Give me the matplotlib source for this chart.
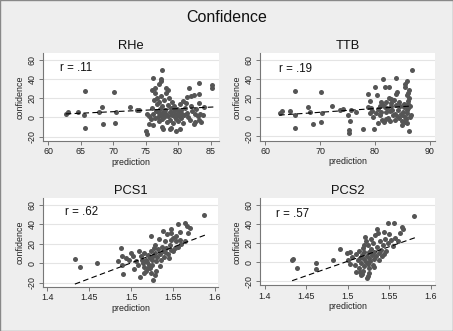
import matplotlib
matplotlib.use("Agg")
import matplotlib.pyplot as plt
from matplotlib.patches import Rectangle

plt.rcParams['font.family'] = ['Liberation Sans', 'DejaVu Sans']

# ---------- data ----------
rhe_x = [62.8, 63.0, 64.6, 65.5, 65.6, 65.7, 67.8, 68.3, 68.4, 70.2, 70.3, 70.5, 72.6, 73.6, 74.0,
         75.0, 75.2, 75.2, 77.6, 76.1, 77.3, 77.4, 76.4, 78.1, 81.7, 83.3, 85.2, 85.3, 83.3, 81.3,
         82.0, 82.5, 77.7, 78.7, 79.7, 75.6, 82.6, 83.3,
         75.5, 75.8, 76.0, 76.2, 76.3, 76.5, 76.5, 76.6, 76.7, 76.8, 76.9, 77.0, 77.0, 77.1, 77.2,
         77.3, 77.4, 77.5, 77.6, 77.7, 77.8, 77.9, 78.0, 78.1, 78.2, 78.3, 78.4, 78.5, 78.6, 78.7,
         78.8, 78.9, 79.0, 79.1, 79.2, 79.3, 79.4, 79.5, 79.6, 79.7, 79.8, 79.9, 80.0, 80.1, 80.2,
         80.3, 80.4, 80.5, 80.6, 80.7, 80.8, 80.9, 81.0, 81.2, 81.4, 81.6, 81.8, 82.0, 82.2, 82.4,
         82.6, 82.8, 83.0, 83.2, 83.4, 83.6, 83.8, 84.0, 76.2, 77.5, 78.9, 80.3, 76.0, 77.0, 78.5]
rhe_y = [3, 5.5, 6, 2, 27, -11, 6, 10.5, -7, 26.6, -5.5, 5.5, 11, 8, 8,
         -14, -17, 4, 49, 41, 40, 38, 31, 31, 31, 36, 33.5, 31, 24, 21,
         22.5, 23, -12, -12, -14, -6.5, -5, -3,
         1, -2, 10, 3, 18, 25, -1, 7, 14, 20, 0, 5, 16, -4, 9,
         22, 2, 12, -2, 6, 18, 0, 8, 25, 3, -5, 13, 1, 20, 6,
         -3, 10, 16, 2, -6, 7, 12, 0, 4, -2, 9, 3, -4, 6, 1,
         14, -1, 8, 4, 17, -6, 2, 10, 15, 5, 0, -3, 12, 7, -7,
         3, 9, 1, 15, 4, -5, 2, 11, -8, -10, -11, -12, 28, 35, 28]

ttb_x = [62.6, 63.0, 64.5, 65.4, 65.4, 65.4, 67.8, 68.1, 68.6, 70.1, 70.1, 70.4, 72.1, 73.6, 74.1,
         75.3, 75.3, 75.1, 75.5, 75.7, 76.6, 77.9, 79.9,
         86.7, 83.8, 81.4, 85.8, 85.6, 85.6, 80.0, 82.6, 81.8, 78.8, 86.2, 85.8,
         79.1, 78.8, 79.1, 79.7, 80.3, 81.2, 81.8, 82.1, 82.4, 83.0, 83.0, 83.3, 83.6, 83.9, 84.2,
         84.5, 84.9, 85.3, 85.5, 85.6, 85.8, 85.9, 86.0, 86.1, 85.8, 86.1, 86.4, 85.7, 86.0,
         80.6, 81.0, 81.5, 82.0, 82.8, 83.5, 84.0, 84.6, 85.0, 80.2, 81.7, 82.3, 82.9, 83.7, 84.4,
         85.2, 86.3, 86.5, 79.5, 80.9, 81.3, 82.6, 83.2, 84.8, 85.4, 86.2, 80.5, 82.0, 84.1, 85.0,
         81.1, 83.9, 86.6, 79.3, 82.7]
ttb_y = [3.8, 6, 6, 2, 27, -11.6, 10.5, 5.5, -7, 26.6, -5.5, 3.8, 11, 7, 8,
         -14, -17, 2, -4, 7, 5.5, -12, -12,
         49, 41, 40, 38, 34, 31, 31, 31, 31, 24, -15, -6.5,
         17, 10.6, 3.8, 0.3, 22.5, 15.7, 10.6, 5.5, -1.4, 19, 12, 2, -3, 24, 7,
         15.7, 2, 10.6, 0.3, -5, 7, 4, 14, 17, 22.5, 25, 0, -2, 9,
         8, 2, 13, -2, 6, 18, 1, 11, -4, 4, -5, 9, 15, 3, -1,
         5, 20, 12, 6, 12, -3, 20, 7, 3, 14, 28, -6, 16, 26, -8,
         5, 13, 2, 9, -4]

pcs1_x = [1.4335, 1.4394, 1.459, 1.587, 1.556, 1.564, 1.567, 1.570, 1.568, 1.4875, 1.489, 1.490,
          1.511, 1.526, 1.524, 1.520, 1.524, 1.538, 1.548, 1.550, 1.564,
          1.4895, 1.494, 1.500, 1.502, 1.506, 1.508, 1.510, 1.512, 1.513, 1.514, 1.516, 1.518,
          1.520, 1.521, 1.522, 1.524, 1.525, 1.526, 1.528, 1.530, 1.532, 1.534, 1.536, 1.537,
          1.538, 1.540, 1.542, 1.544, 1.546, 1.548, 1.550, 1.552, 1.554, 1.556, 1.558, 1.560,
          1.530, 1.528, 1.518, 1.523, 1.516, 1.527, 1.533, 1.545, 1.535, 1.519, 1.525, 1.531,
          1.541, 1.504, 1.497, 1.485, 1.515, 1.529, 1.539, 1.547, 1.553, 1.548, 1.558, 1.543]
pcs1_y = [4.5, -4, 0, 49, 40.5, 41, 38, 36, 31, 15, -2, -11,
          -14, -17, -10, -5, 28, 33, 31, 26, 22.5,
          7, 5, 10, 7, 2, -2, 12, 7, 3.5, 0, -3.5, 3.5,
          8.7, -1.7, 5, 12, -1.7, 7, 19, 2, 14, 9, 3.5, 17,
          12, 22.5, 16, 9, 19, 24, 12, 16, 22.5, 17, 24, 20,
          -8, -12, -8, -5, 10, 15, 25, 5, -3, 1, 3, 6,
          11, -6, 3, 2, -10, 10, 6, 13, 28, 35, 32, 30]

pcs2_x = [1.4332, 1.4344, 1.4392, 1.4612, 1.4616, 1.4816, 1.490, 1.5797, 1.556, 1.548, 1.565, 1.566,
          1.516, 1.515, 1.523, 1.524,
          1.4992, 1.5004, 1.5024, 1.505, 1.508, 1.510, 1.512, 1.513, 1.514, 1.515, 1.516, 1.517,
          1.518, 1.519, 1.520, 1.520, 1.521, 1.522, 1.522, 1.523, 1.524, 1.524, 1.525, 1.526,
          1.526, 1.527, 1.528, 1.529, 1.530, 1.530, 1.531, 1.532, 1.533, 1.534, 1.535, 1.536,
          1.537, 1.538, 1.539, 1.540, 1.542, 1.543, 1.545, 1.546, 1.548, 1.550, 1.552, 1.554,
          1.557, 1.560, 1.563, 1.541, 1.518, 1.526, 1.510, 1.532, 1.503, 1.528, 1.535, 1.544,
          1.520, 1.517]
pcs2_y = [1.7, 3.5, -6, -0.7, -7, 1.7, 14, 48, 40.5, 40.5, 37, 35,
          -14, -10, -17, -14.5,
          9.3, 1.7, -1.7, 5, -3, 8, 2, -6, 12, 4, -1, 7,
          15, -4, 3, 10, 26, 0, 22, 6, -2, 18, 4, 10,
          -6, 1, 14, 7, -3, 20, 3, 11, 28, 6, 16, 30,
          9, 2, 22, 13, 18, 31, 24, 12, 20, 29, 23, 17,
          25, 22, 30, 6, -9, -11, -10, -5, 10, 24, 35, 8,
          18, -12]

# fitted lines (end points) and correlation labels
fit_x = {'RHe': [62.7, 85.5], 'TTB': [62.5, 86.7], 'PCS1': [1.433, 1.589], 'PCS2': [1.433, 1.581]}
fit_y = {'RHe': [3.6, 10.8], 'TTB': [2.0, 11.5], 'PCS1': [-21.5, 29.0], 'PCS2': [-19.5, 25.5]}
r_text = {'RHe': 'r = .11', 'TTB': 'r = .19', 'PCS1': 'r = .62', 'PCS2': 'r = .57'}

panels = [
    ('RHe', rhe_x, rhe_y, [0.0949, 0.574, 0.3885, 0.2659], (59.2, 86.3),
     [60, 65, 70, 75, 80, 85], ['60', '65', '70', '75', '80', '85'], (61.8, 51.5)),
    ('TTB', ttb_x, ttb_y, [0.574, 0.5755, 0.3863, 0.2644], (59.0, 91.0),
     [60, 70, 80, 90], ['60', '70', '80', '90'], (62.5, 50.5)),
    ('PCS1', pcs1_x, pcs1_y, [0.0949, 0.1329, 0.3863, 0.2690], (1.395, 1.6036),
     [1.4, 1.45, 1.5, 1.55, 1.6], ['1.4', '1.45', '1.5', '1.55', '1.6'], (1.4207, 52)),
    ('PCS2', pcs2_x, pcs2_y, [0.574, 0.1375, 0.3863, 0.2640], (1.3944, 1.6048),
     [1.4, 1.45, 1.5, 1.55, 1.6], ['1.4', '1.45', '1.5', '1.55', '1.6'], (1.4136, 50)),
]

bg = '#EEEEEE'
fig = plt.figure(figsize=(4.53, 3.31), dpi=100, facecolor=bg)
fig.patches.append(Rectangle((0, 0), 1, 1, transform=fig.transFigure, fill=False,
                             edgecolor='#888888', linewidth=1.0))

fig.text(0.5, 0.946, 'Confidence', ha='center', va='center', fontsize=11.5, color='#111111')

for name, xs, ys, pos, xlim, xt, xtl, rpos in panels:
    ax = fig.add_axes(pos)
    ax.set_facecolor('white')
    ax.set_xlim(*xlim)
    ax.set_ylim(-24.5, 66.8)
    ax.set_yticks([-20, 0, 20, 40, 60])
    ax.set_yticklabels(['-20', '0', '20', '40', '60'], rotation=90, va='center')
    ax.set_xticks(xt)
    ax.set_xticklabels(xtl)
    ax.grid(axis='y', color='#E4E4E4', linewidth=0.8)
    ax.set_axisbelow(True)
    for side in ['top', 'right']:
        ax.spines[side].set_visible(False)
    for side in ['left', 'bottom']:
        ax.spines[side].set_color('#777777')
        ax.spines[side].set_linewidth(0.8)
    ax.tick_params(labelsize=6.4, length=3, width=0.7, color='#777777', pad=1.5, labelcolor='#222222')

    ax.plot(xs, ys, 'o', ms=3.6, color='#555555', markeredgewidth=0)
    ax.plot(fit_x[name], fit_y[name], color='black', linewidth=0.8, dashes=(5, 3))
    ax.text(rpos[0], rpos[1], r_text[name], fontsize=8.3, va='center', ha='left', color='#111111')

    ax.set_title(name, fontsize=9.3, pad=3, color='#111111')
    ax.set_xlabel('prediction', fontsize=6.4, labelpad=1, color='#222222')
    ax.set_ylabel('confidence', fontsize=6.4, labelpad=2, color='#222222')

fig.savefig('out.png', dpi=100, facecolor=bg)
